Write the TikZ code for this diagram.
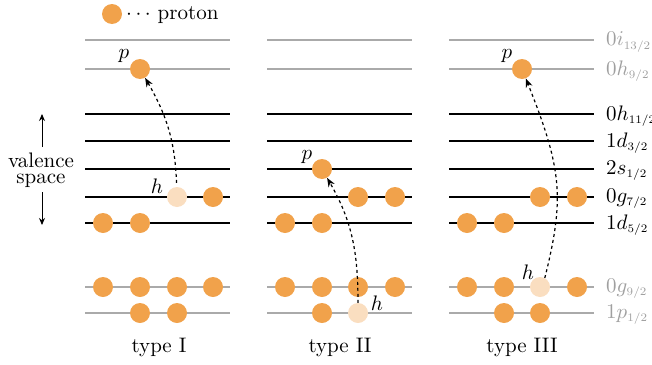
\documentclass[tikz,border=0pt]{standalone}
\usetikzlibrary{arrows.meta}
\definecolor{porange}{RGB}{241,162,75}
\definecolor{lgrey}{RGB}{170,170,170}
\definecolor{tgrey}{RGB}{160,160,160}
\newcommand{\Sz}[1]{\scalebox{2.1}{#1}}
\newcommand{\Lv}[3]{\scalebox{2.1}{$#1#2_{\scalebox{0.78}{$\scriptstyle #3$}}$}}
\begin{document}
\begin{tikzpicture}[x=1pt,y=-1pt,
  prot/.style={circle,fill=porange,minimum size=20pt,inner sep=0pt},
  hole/.style={circle,fill=porange!35,minimum size=20pt,inner sep=0pt},
  core/.style={lgrey,line width=1.5pt},
  val/.style={black,line width=1.5pt},
  lvl/.style={anchor=west,inner sep=0pt},
  exc/.style={dashed,line width=1.2pt,-{Stealth[length=9pt,width=7pt]}},
]
\useasboundingbox (0,0) rectangle (652,364);
% levels
\foreach \y/\s in {40/core,69/core,114/val,141/val,169/val,197/val,223/val,287/core,313/core}
  \foreach \x in {85,267,449} \draw[\s] (\x,\y) -- ++(145,0);
% level labels
\node[lvl,tgrey] (Li13) at (606,42) {\Lv{0}{i}{13/2}};
\node[lvl,tgrey] (Lh9) at (606,71) {\Lv{0}{h}{9/2}};
\node[lvl] (Lh11) at (606,116) {\Lv{0}{h}{11/2}};
\node[lvl] (Ld3) at (606,143) {\Lv{1}{d}{3/2}};
\node[lvl] (Ls1) at (606,171) {\Lv{2}{s}{1/2}};
\node[lvl] (Lg7) at (606,199) {\Lv{0}{g}{7/2}};
\node[lvl] (Ld5) at (606,225) {\Lv{1}{d}{5/2}};
\node[lvl,tgrey] (Lg9) at (606,289) {\Lv{0}{g}{9/2}};
\node[lvl,tgrey] (Lp1) at (606,315) {\Lv{1}{p}{1/2}};
% legend
\node[prot] (leg) at (112,14) {};
\node[anchor=west,inner sep=0pt] (legt) at (126,15) {\Sz{$\cdots$ proton}};
% type I
\node[prot] (pI) at (140,69) {};
\node[hole] (hI) at (177,197) {};
\node[prot] (I1) at (213,197) {};
\node[prot] (I2) at (103,223) {};
\node[prot] (I3) at (140,223) {};
\node[prot] (I4) at (103,287) {};
\node[prot] (I5) at (140,287) {};
\node[prot] (I6) at (177,287) {};
\node[prot] (I7) at (213,287) {};
\node[prot] (I8) at (140,313) {};
\node[prot] (I9) at (177,313) {};
% type II
\node[prot] (pII) at (322,169) {};
\node[prot] (II1) at (358,197) {};
\node[prot] (II2) at (395,197) {};
\node[prot] (II3) at (285,223) {};
\node[prot] (II4) at (322,223) {};
\node[prot] (II5) at (285,287) {};
\node[prot] (II6) at (322,287) {};
\node[prot] (II7) at (358,287) {};
\node[prot] (II8) at (395,287) {};
\node[prot] (II9) at (322,313) {};
\node[hole] (hII) at (358,313) {};
% type III
\node[prot] (pIII) at (522,69) {};
\node[prot] (III1) at (540,197) {};
\node[prot] (III2) at (577,197) {};
\node[prot] (III3) at (467,223) {};
\node[prot] (III4) at (504,223) {};
\node[prot] (III5) at (467,287) {};
\node[prot] (III6) at (504,287) {};
\node[hole] (hIII) at (540,287) {};
\node[prot] (III7) at (577,287) {};
\node[prot] (III8) at (504,313) {};
\node[prot] (III9) at (540,313) {};
% excitations
\draw[exc,shorten <=4pt] (hI) to[out=92,in=-60] (pI);
\draw[exc] (hII) to[out=90,in=-60] (pII);
\draw[exc] (hIII.62) .. controls +(20,-80) and +(40,100) .. (pIII);
% p / h labels
\node (pIl) at (124,56) {\Sz{$p$}};
\node (hIl) at (157,186) {\Sz{$h$}};
\node (pIIl) at (307,157) {\Sz{$p$}};
\node (hIIl) at (377,303) {\Sz{$h$}};
\node (pIIIl) at (507,56) {\Sz{$p$}};
\node (hIIIl) at (528,272) {\Sz{$h$}};
% valence space
\node[inner sep=0pt] (vs) at (41,170) {\Sz{\vbox{\baselineskip=7.5pt\halign{\hfil#\hfil\cr valence\cr space\cr}}}};
\coordinate (vtop) at (42,114);
\coordinate (vbot) at (42,225);
\coordinate (vtopt) at (42,147);
\coordinate (vbott) at (42,192);
\draw[line width=1pt,-{Stealth[length=7pt,width=6pt]}] (vtopt) -- (vtop);
\draw[line width=1pt,-{Stealth[length=7pt,width=6pt]}] (vbott) -- (vbot);
% type labels
\node (tI) at (159,347) {\Sz{type I}};
\node (tII) at (340,347) {\Sz{type II}};
\node (tIII) at (522,347) {\Sz{type III}};
\end{tikzpicture}
\end{document}
